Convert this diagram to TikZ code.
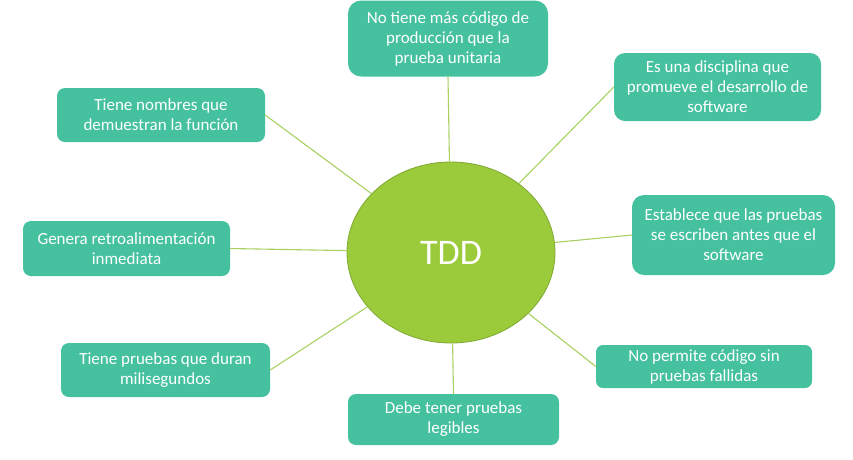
\documentclass[tikz,border=0pt]{standalone}
\usepackage{fontspec}
\setmainfont{Carlito}
\usetikzlibrary{shapes.geometric}
\definecolor{boxfill}{HTML}{45C1A0}
\definecolor{ellfill}{HTML}{9BCB3B}
\definecolor{elldraw}{HTML}{7EA832}
\definecolor{linkcol}{HTML}{A8D162}
\tikzset{
  box/.style n args={3}{rectangle, fill=boxfill, text=white, align=center,
    inner sep=0pt, minimum width=#1pt, minimum height=#2pt, rounded corners=#3pt,
    font=\fontsize{17}{20}\selectfont},
  link/.style={draw=linkcol, line width=1.1pt}
}
\begin{document}
\begin{tikzpicture}[x=1pt,y=-1pt]
\useasboundingbox[fill=white] (0,0) rectangle (853,459);
\node[ellipse, fill=ellfill, draw=elldraw, line width=0.8pt, minimum width=208pt, minimum height=181pt,
  text=white, font=\fontsize{36}{40}\selectfont] (tdd) at (451,252.5) {TDD};
\node[box={200}{76}{13}] (top) at (448,38.5) {No tiene más código de\\producción que la\\prueba unitaria};
\node[box={207}{68}{11}] (tr) at (717.5,87) {Es una disciplina que\\promueve el desarrollo de\\software};
\node[box={203}{80}{12}] (rt) at (733.5,235) {Establece que las pruebas\\se escriben antes que el\\software};
\node[box={216}{43}{7}] (lr) at (704,366.5) {No permite código sin\\pruebas fallidas};
\node[box={211}{51}{8}] (bot) at (453.5,419.5) {Debe tener pruebas\\legibles};
\node[box={209}{54}{8}] (ll) at (165.5,370) {Tiene pruebas que duran\\milisegundos};
\node[box={207}{55}{8}] (lt) at (126.5,248.5) {Genera retroalimentación\\inmediata};
\node[box={208}{54}{8}] (tl) at (161,115) {Tiene nombres que\\demuestran la función};
\draw[link] (top.south) -- (tdd);
\draw[link] (tr.west) -- (tdd);
\draw[link] (rt.west) -- (tdd);
\draw[link] (lr.west) -- (tdd);
\draw[link] (bot.north) -- (tdd);
\draw[link] (ll.east) -- (tdd);
\draw[link] (lt.east) -- (tdd);
\draw[link] (tl.east) -- (tdd);
\end{tikzpicture}
\end{document}
